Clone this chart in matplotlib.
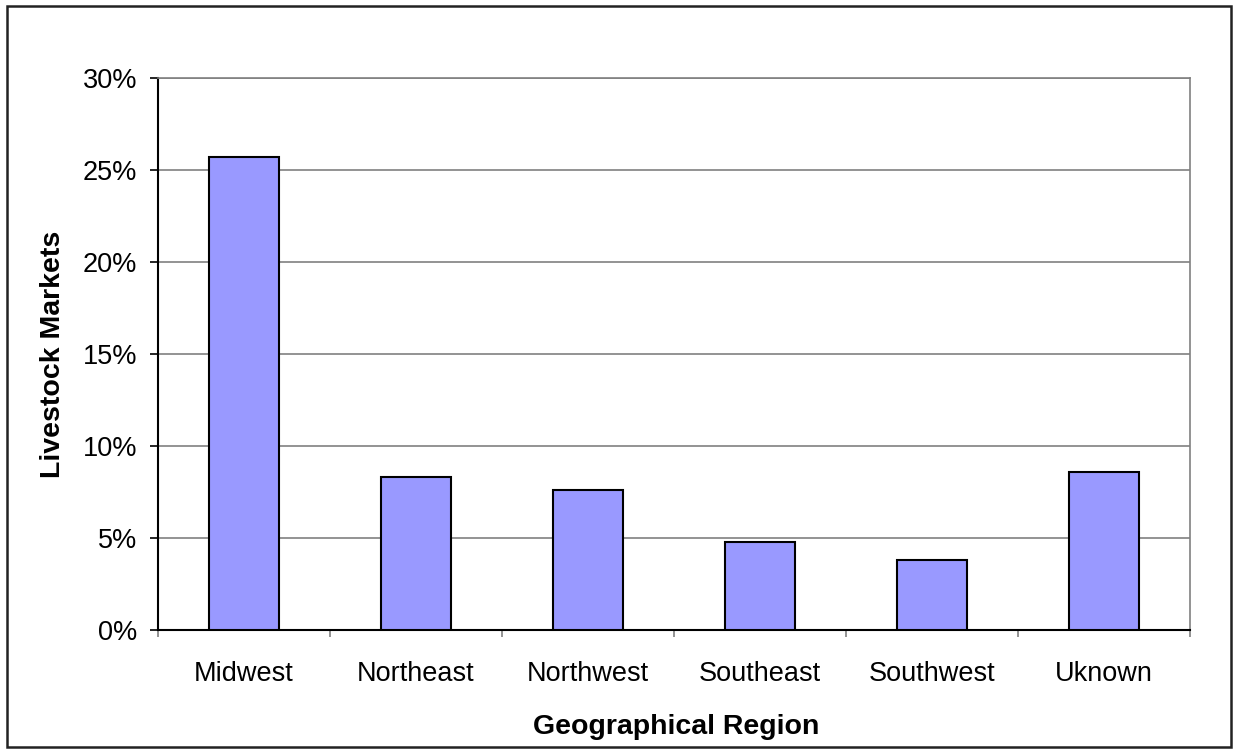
import matplotlib
matplotlib.use("Agg")
import matplotlib.pyplot as plt
from matplotlib.patches import Rectangle
from matplotlib.ticker import FuncFormatter, FixedLocator, MultipleLocator

regions = ["Midwest", "Northeast", "Northwest", "Southeast", "Southwest", "Uknown"]
shares = [25.7, 8.3, 7.6, 4.8, 3.8, 8.6]  # percent of livestock markets

plt.rcParams["font.family"] = ["Liberation Sans", "DejaVu Sans"]

W, H = 1235, 751
fig = plt.figure(figsize=(W / 100, H / 100), dpi=100)
ax = fig.add_axes([158 / W, 121 / H, 1032 / W, 552 / H])

x = list(range(len(regions)))
ax.bar(x, shares, width=0.41, color="#9999FF", edgecolor="black", linewidth=1.5, zorder=3)

ax.set_xlim(-0.5, len(regions) - 0.5)
ax.set_ylim(0, 30)
ax.yaxis.set_major_locator(MultipleLocator(5))
ax.yaxis.set_major_formatter(FuncFormatter(lambda v, _: f"{v:.0f}%"))
ax.yaxis.grid(True, color="#808080", linewidth=1.2, zorder=0)

# category labels centred under bars, tick marks between categories
ax.set_xticks(x)
ax.set_xticklabels(regions)
ax.tick_params(axis="x", which="major", length=0, pad=22, labelsize=19.5)
ax.xaxis.set_minor_locator(FixedLocator([i - 0.5 for i in range(len(regions) + 1)]))
ax.tick_params(axis="x", which="minor", length=5, width=1.2, color="#808080", direction="out")
ax.tick_params(axis="y", length=6, width=1.2, direction="out", pad=9, labelsize=19.5)

for side in ("top", "right"):
    ax.spines[side].set_color("#808080")
    ax.spines[side].set_linewidth(1.2)
for side in ("left", "bottom"):
    ax.spines[side].set_color("black")
    ax.spines[side].set_linewidth(1.5)

# axis titles
fig.text(676 / W, (H - 734) / H, "Geographical Region", fontsize=20.5,
         fontweight="bold", ha="center", va="baseline")
fig.text(53 / W, (H - 354) / H, "Livestock Markets", fontsize=20.5,
         fontweight="bold", ha="center", va="center", rotation=90)

# chart-area border
fig.patches.append(Rectangle((7 / W, 4 / H), 1224 / W, 741 / H,
                             transform=fig.transFigure, fill=False,
                             edgecolor="#222222", linewidth=1.8))

fig.savefig("out.png", dpi=100)
